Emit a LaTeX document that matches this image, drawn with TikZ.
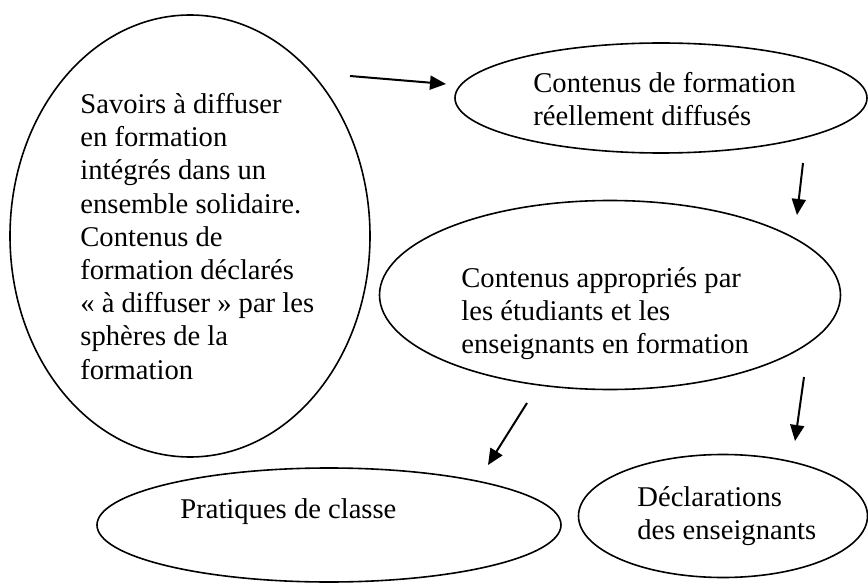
\documentclass[tikz,border=0pt]{standalone}
\usepackage{fontspec}
\setmainfont{Liberation Serif}
\usetikzlibrary{shapes.geometric,arrows.meta}

\begin{document}
\begin{tikzpicture}[x=0.5pt,y=-0.5pt,
    bulle/.style={draw,ellipse,line width=0.8pt,inner sep=0pt},
    texte/.style={anchor=north west,align=left,inner sep=0pt,
      font=\fontsize{14.3}{16.6}\selectfont},
    fleche/.style={line width=1pt,-{Triangle[length=8pt,width=7pt]}}]
        \useasboundingbox (0,0) rectangle (868,583);

        % les ellipses
        \node[bulle,minimum width=180pt,minimum height=221pt] (savoirs) at (190,236) {};
        \node[bulle,minimum width=206pt,minimum height=55pt] (diffuses) at (661,98) {};
        \node[bulle,minimum width=230.5pt,minimum height=94.5pt] (appropries) at (610,295) {};
        \node[bulle,minimum width=232pt,minimum height=57pt] (pratiques) at (329,525) {};
        \node[bulle,minimum width=144.5pt,minimum height=61.5pt] (declarations) at (723,516) {};

        % les textes
        \node[texte] (savoirs-txt) at (80,93)
        {Savoirs à diffuser\\en formation\\intégrés dans un\\ensemble solidaire.\\Contenus de\\formation déclarés\\«~à diffuser~» par les\\sphères de la\\formation};
        \node[texte] (diffuses-txt) at (533,72)
        {Contenus de formation\\réellement diffusés};
        \node[texte] (appropries-txt) at (461,267)
        {Contenus appropriés par\\les étudiants et les\\enseignants en formation};
        \node[texte] (pratiques-txt) at (180,498) {Pratiques de classe};
        \node[texte] (declarations-txt) at (637,486)
        {Déclarations\\des enseignants};

        % les flèches
        \coordinate (f1-a) at (350,76);
        \coordinate (f1-b) at (446,84);
        \coordinate (f2-a) at (803,163);
        \coordinate (f2-b) at (797,215);
        \coordinate (f3-a) at (527,403);
        \coordinate (f3-b) at (488,465);
        \coordinate (f4-a) at (804,377);
        \coordinate (f4-b) at (795,441);
        \draw[fleche] (f1-a) -- (f1-b);
        \draw[fleche] (f2-a) -- (f2-b);
        \draw[fleche] (f3-a) -- (f3-b);
        \draw[fleche] (f4-a) -- (f4-b);

      \end{tikzpicture}
\end{document}
